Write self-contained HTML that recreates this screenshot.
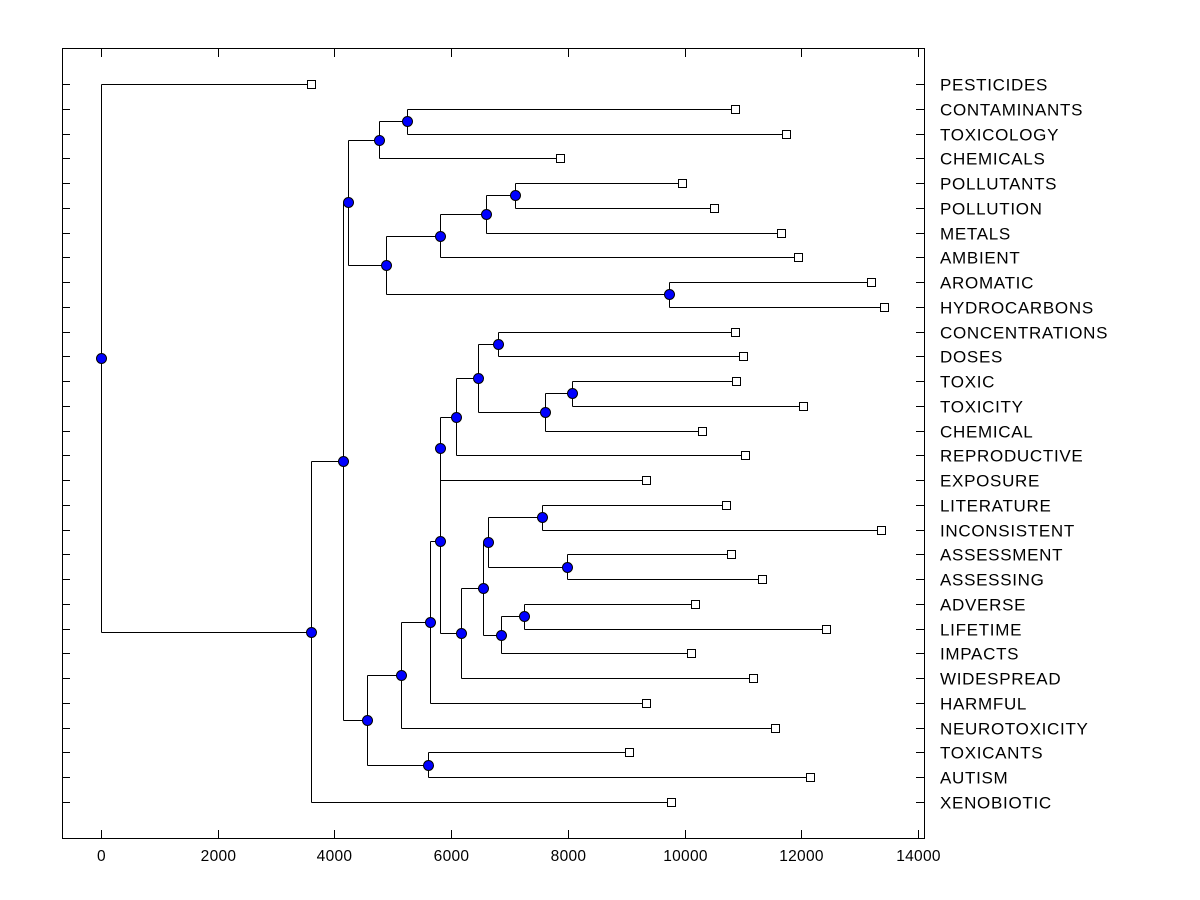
<!DOCTYPE html>
<html><head><meta charset="utf-8"><style>
html,body{margin:0;padding:0;background:#fff;}
svg{display:block;font-family:"Liberation Sans",Arial,sans-serif;}
</style></head><body>
<svg id="chart" width="1200" height="900" xmlns="http://www.w3.org/2000/svg"></svg>
<script>
const leafNames = ["PESTICIDES","CONTAMINANTS","TOXICOLOGY","CHEMICALS","POLLUTANTS","POLLUTION","METALS","AMBIENT","AROMATIC","HYDROCARBONS","CONCENTRATIONS","DOSES","TOXIC","TOXICITY","CHEMICAL","REPRODUCTIVE","EXPOSURE","LITERATURE","INCONSISTENT","ASSESSMENT","ASSESSING","ADVERSE","LIFETIME","IMPACTS","WIDESPREAD","HARMFUL","NEUROTOXICITY","TOXICANTS","AUTISM","XENOBIOTIC"];
const leafValues = [3598,10864,11738,7865,9955,10504,11652,11943,13194,13417,10864,11001,10881,12029,10298,11035,9339,10709,13365,10795,11326,10178,12423,10110,11172,9339,11549,9047,12149,9767];
const mergeValues = [5243,4763,7094,6597,5809,9733,6803,8071,7608,6460,6083,5809,7557,7985,6632,7248,6854,6546,6170,5809,5809,5638,5140,4558,5603,4883,4232,4146,3598,0];
const xTicks = [0,2000,4000,6000,8000,10000,12000,14000];
</script>
<script>
const svg = document.getElementById('chart');
const NS = "http://www.w3.org/2000/svg";
const X0 = 101, KX = (918-101)/14000;
const xs = v => X0 + v*KX;
const ys = i => 84 + i*(802-84)/29;
function mk(tag, attrs, parent){const e=document.createElementNS(NS,tag);for(const k in attrs)e.setAttribute(k,attrs[k]);(parent||svg).appendChild(e);return e;}

function leaf(i){return {x:xs(leafValues[i]), y:ys(i), leaf:true, name:leafNames[i]};}
function node(a,b,v){return {x:xs(v), y:(a.y+b.y)/2, a:a, b:b, leaf:false};}
const L = leafNames.map((n,i)=>leaf(i));
const n407 = node(L[1],L[2],mergeValues[0]);
const n379 = node(n407,L[3],mergeValues[1]);
const n515 = node(L[4],L[5],mergeValues[2]);
const n486 = node(n515,L[6],mergeValues[3]);
const n440 = node(n486,L[7],mergeValues[4]);
const n669 = node(L[8],L[9],mergeValues[5]);
const n498 = node(L[10],L[11],mergeValues[6]);
const n572 = node(L[12],L[13],mergeValues[7]);
const n545 = node(n572,L[14],mergeValues[8]);
const n478 = node(n498,n545,mergeValues[9]);
const n455 = node(n478,L[15],mergeValues[10]);
const n441a = node(n455,L[16],mergeValues[11]);
const n542 = node(L[17],L[18],mergeValues[12]);
const n567 = node(L[19],L[20],mergeValues[13]);
const n488 = node(n542,n567,mergeValues[14]);
const n524 = node(L[21],L[22],mergeValues[15]);
const n501 = node(n524,L[23],mergeValues[16]);
const n483 = node(n488,n501,mergeValues[17]);
const n461 = node(n483,L[24],mergeValues[18]);
const n441b = node(n441a,n461,mergeValues[19]);
const n430 = node(n441b,L[25],mergeValues[21]);
const n401 = node(n430,L[26],mergeValues[22]);
const n428 = node(L[27],L[28],mergeValues[24]);
const n367 = node(n401,n428,mergeValues[23]);
const n386 = node(n440,n669,mergeValues[25]);
const n348 = node(n379,n386,mergeValues[26]);
const n343 = node(n348,n367,mergeValues[27]);
const n311 = node(n343,L[29],mergeValues[28]);
const root = node(L[0],n311,mergeValues[29]);

const fr = mk('rect',{x:62.5,y:48.5,width:862,height:790,fill:'none',stroke:'#000','stroke-width':1});


xTicks.forEach(t=>{
  const x=Math.round(xs(t))+0.5;
  const l1=mk('line',{x1:x,y1:838,x2:x,y2:830,stroke:'#000'});
  
  
  mk('line',{x1:x,y1:49,x2:x,y2:57,stroke:'#000'});
  const tx=mk('text',{x:x,y:861,'font-size':15.5,'text-anchor':'middle',fill:'#000','letter-spacing':0.3});
  tx.textContent=t;
  
  
});
leafNames.forEach((n,i)=>{
  const y=Math.round(ys(i))+0.5;
  mk('line',{x1:62,y1:y,x2:70,y2:y,stroke:'#000'});
  mk('line',{x1:916,y1:y,x2:924,y2:y,stroke:'#000'});
  const t=mk('text',{x:940,y:y+6,'font-size':17,fill:'#000','letter-spacing':0.7});
  t.textContent=n;
  
  
});
const lines=mk('g',{stroke:'#000','stroke-width':1,fill:'none'});


const marks=[];
function draw(n){
  if(n.leaf){marks.push(n);return;}
  const x=Math.round(n.x)+0.5;
  [n.a,n.b].forEach(c=>{
    const cy=Math.round(c.y)+0.5;
    mk('path',{d:`M${x},${cy}H${Math.round(c.x)}`},lines);
    draw(c);
  });
  mk('path',{d:`M${x},${Math.round(n.a.y)+0.5}V${Math.round(n.b.y)+0.5}`},lines);
  marks.push(n);
}
draw(root);
marks.forEach(n=>{
  if(n.leaf){
    const r=mk('rect',{x:Math.round(n.x)-3.5,y:Math.round(n.y)-3.5,width:8,height:8,fill:'#fff',stroke:'#000'});
    
    
  } else {
    const c=mk('circle',{cx:Math.round(n.x)+0.5,cy:Math.round(n.y)+0.5,r:5,fill:'#0000ff',stroke:'#000'});
    
    
  }
});
</script>
</body></html>
